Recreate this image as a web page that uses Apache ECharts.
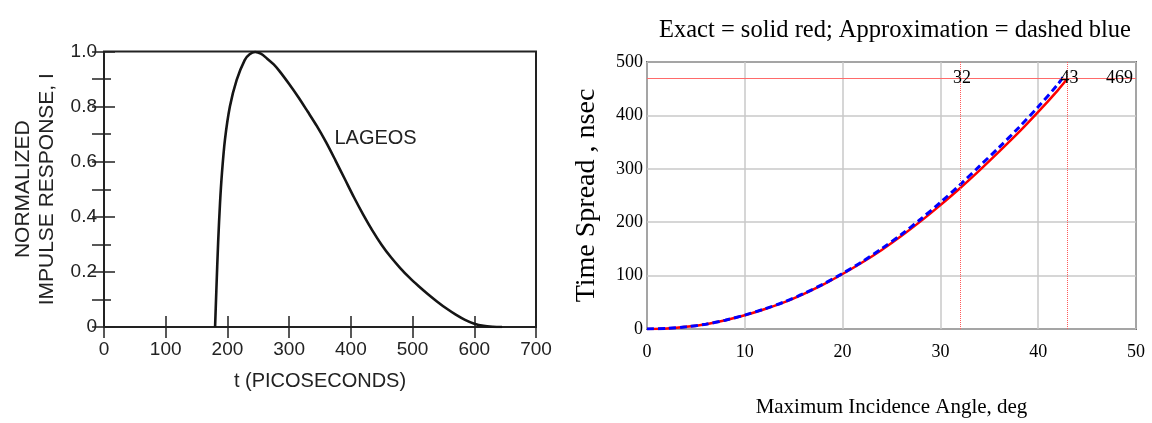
<!DOCTYPE html>
<html>
<head>
<meta charset="utf-8">
<script src="https://cdn.jsdelivr.net/npm/echarts@6/dist/echarts.min.js"></script>
<style>
html,body{margin:0;padding:0;background:#fff}
#main{width:1152px;height:423px}
</style>
</head>
<body>
<div id="main"></div>
<script>
// left panel: LAGEOS normalized impulse response
const lageosT = [180,182,185,188,191,196,204,215,228,236,245,254,264,275,285,300,315,330,345,360,375,390,405,420,435,450,465,480,495,510,525,540,555,570,585,600,615,630,645];
const lageosI = [0,0.13,0.31,0.45,0.555,0.68,0.8,0.897,0.969,0.99,0.998,0.992,0.975,0.953,0.927,0.882,0.834,0.782,0.729,0.67,0.605,0.538,0.471,0.408,0.35,0.298,0.253,0.214,0.179,0.148,0.119,0.092,0.067,0.045,0.026,0.012,0.004,0.001,0];

// right panel: time spread vs max incidence angle
const exactDeg = [0,2,4,6,8,10,12,14,16,18,20,22,24,26,28,30,32,34,36,38,40,42,43];
const exactNs = [0,1,4,9,16.5,25.7,37,50,65.5,83,103,124.5,148,174,202,232,263.5,297,332,368,406.5,447,469];
const approxDeg = [0,2,4,6,8,10,12,14,16,18,20,22,24,26,28,30,32,34,36,38,40,42,42.6];
const approxNs = [0,1,4,9,16.5,26,37.5,50.5,66,84,104,126,150.5,177,206,237,270,305,340,377,416,458,473];

// Mathcad style markers
const markerAngles = [32, 43];
const markerTime = 469;

const zip = (xs, ys) => xs.map((x, i) => [x, ys[i]]);

const sans = 'Liberation Sans';
const serif = 'Liberation Serif';
const ink = '#222';

let chart = echarts.init(document.getElementById('main'));
chart.setOption({
  animation: false,
  backgroundColor: '#fff',
  title: {
    text: 'Exact = solid red; Approximation = dashed blue',
    left: 890,
    top: 13,
    textAlign: 'center',
    textStyle: { fontFamily: serif, fontSize: 24.5, fontWeight: 'normal', color: '#000' }
  },
  grid: [
    { left: 104, top: 51.5, width: 432, height: 275.5, show: true, borderColor: ink, borderWidth: 2, backgroundColor: 'transparent' },
    { left: 647, top: 62, width: 489, height: 268, show: true, borderColor: '#000', borderWidth: 1.5, backgroundColor: 'transparent' }
  ],
  xAxis: [
    {
      gridIndex: 0, type: 'value', min: 0, max: 700, interval: 100, position: 'bottom',
      axisLine: { show: false },
      axisTick: { inside: true, length: 11, lineStyle: { color: ink, width: 1.5 } },
      axisLabel: { color: ink, fontFamily: sans, fontSize: 19, margin: 13 },
      splitLine: { show: false },
      name: 't (PICOSECONDS)', nameLocation: 'middle', nameGap: 44,
      nameTextStyle: { color: ink, fontFamily: sans, fontSize: 20 }
    },
    {
      gridIndex: 0, type: 'value', min: 0, max: 700, interval: 100, position: 'top',
      axisLine: { show: false },
      axisTick: { inside: true, length: 11, lineStyle: { color: ink, width: 1.5 } },
      axisLabel: { show: false },
      splitLine: { show: false }
    },
    {
      gridIndex: 1, type: 'value', min: 0, max: 50, interval: 10,
      axisLine: { show: false },
      axisTick: { show: false },
      axisLabel: { color: '#000', fontFamily: serif, fontSize: 18, margin: 14 },
      splitLine: { show: true, lineStyle: { color: '#c8c8c8', width: 1.5 } },
      name: 'Maximum Incidence Angle, deg', nameLocation: 'middle', nameGap: 68,
      nameTextStyle: { color: '#000', fontFamily: serif, fontSize: 21 }
    }
  ],
  yAxis: [
    {
      gridIndex: 0, type: 'value', min: 0, max: 1, interval: 0.2,
      axisLine: { show: false },
      axisTick: { inside: true, length: 11, lineStyle: { color: ink, width: 1.5 } },
      minorTick: { show: true, splitNumber: 2, length: 7, lineStyle: { color: ink, width: 1.5 } },
      axisLabel: { color: ink, fontFamily: sans, fontSize: 19, margin: 7,
        formatter: v => v === 0 ? '0' : v.toFixed(1) },
      splitLine: { show: false },
      name: 'NORMALIZED\nIMPULSE RESPONSE, I', nameLocation: 'middle', nameGap: 45,
      nameTextStyle: { color: ink, fontFamily: sans, fontSize: 21, lineHeight: 24 }
    },
    {
      gridIndex: 0, type: 'value', min: 0, max: 1, interval: 0.1, position: 'right',
      axisLine: { show: false },
      axisTick: { inside: true, length: 12, lineStyle: { color: ink, width: 1.5 } },
      axisLabel: { show: false },
      splitLine: { show: false }
    },
    {
      gridIndex: 1, type: 'value', min: 0, max: 500, interval: 100,
      axisLine: { show: false },
      axisTick: { show: false },
      axisLabel: { color: '#000', fontFamily: serif, fontSize: 18, margin: 4 },
      splitLine: { show: true, lineStyle: { color: '#c8c8c8', width: 1.5 } },
      name: 'Time Spread , nsec', nameLocation: 'middle', nameGap: 46,
      nameTextStyle: { color: '#000', fontFamily: serif, fontSize: 28 }
    }
  ],
  series: [
    {
      name: 'LAGEOS', type: 'line', xAxisIndex: 0, yAxisIndex: 0,
      data: zip(lageosT, lageosI),
      showSymbol: false, smooth: 0.3,
      lineStyle: { color: '#151515', width: 2.6 },
      markPoint: {
        symbolSize: 0, silent: true,
        label: { show: true, position: 'inside', color: ink, fontFamily: sans, fontSize: 20, formatter: '{b}' },
        data: [{ name: 'LAGEOS', coord: [440, 0.686] }]
      }
    },
    {
      name: 'Exact', type: 'line', xAxisIndex: 2, yAxisIndex: 2,
      data: zip(exactDeg, exactNs),
      showSymbol: false, smooth: 0.3,
      lineStyle: { color: '#ff0000', width: 2.5 },
      markLine: {
        silent: true, symbol: 'none',
        data: [
          { yAxis: markerTime, lineStyle: { color: '#ff6a6a', width: 1, type: 'solid' },
            label: { show: true, position: 'insideEnd', distance: 3, formatter: String(markerTime), color: '#000', fontFamily: serif, fontSize: 18 } }
        ].concat(markerAngles.map(a => ({
          xAxis: a, lineStyle: { color: '#ff5a5a', width: 1, type: [1, 1] }, label: { show: false }
        })))
      },
      markPoint: {
        symbolSize: 0, silent: true,
        label: { show: true, position: 'inside', offset: [2, 0], color: '#000', fontFamily: serif, fontSize: 18, formatter: '{b}' },
        data: markerAngles.map(a => ({ name: String(a), coord: [a, markerTime] }))
      }
    },
    {
      name: 'Approximation', type: 'line', xAxisIndex: 2, yAxisIndex: 2,
      data: zip(approxDeg, approxNs),
      showSymbol: false, smooth: 0.3,
      lineStyle: { color: '#0000ff', width: 3, type: [7, 4] }
    }
  ]
});
</script>
</body>
</html>
